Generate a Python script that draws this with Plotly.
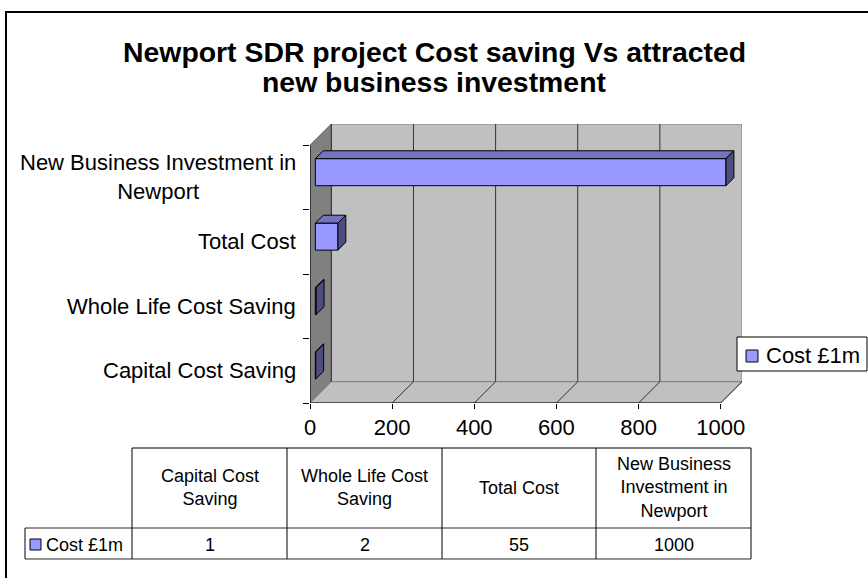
import plotly.graph_objects as go

# ---------------- data ----------------
categories = ["Capital Cost Saving", "Whole Life Cost Saving", "Total Cost",
              "New Business Investment in Newport"]
axis_labels = ["Capital Cost Saving", "Whole Life Cost Saving", "Total Cost",
               "New Business Investment in<br>Newport"]
table_headers = ["Capital Cost<br>Saving", "Whole Life Cost<br>Saving", "Total Cost",
                 "New Business<br>Investment in<br>Newport"]
cost_values = [1, 2, 55, 1000]
series_name = "Cost £1m"
x_ticks = [0, 200, 400, 600, 800, 1000]
title_lines = ["Newport SDR project Cost saving Vs attracted", "new business investment"]

# ---------------- styling / geometry ----------------
W, H = 868, 578
PL, PR, PT, PB = 310, 742, 124, 403          # plot area in pixels
XMAX = 1000                                   # value axis max
DX, DY = 52, 0.33                             # 3-D depth offset in data units
F0, F1 = 0.25, 0.62                           # bar depth fraction (front, back)
BAR_H = 0.42
FRONT = "#9999FF"
TOP = "#7373BF"
SIDE = "#4D4D80"
FONT = "Liberation Sans, Arial, sans-serif"


def px2x(px):
    return (px - PL) / (PR - PL)


def px2y(py):
    return (PB - py) / (PB - PT)


fig = go.Figure()

ox, oy = F0 * DX, F0 * DY
ddx, ddy = (F1 - F0) * DX, (F1 - F0) * DY
centres = [i + 0.5 + oy for i in range(len(categories))]

# front faces (real bars)
fig.add_trace(go.Bar(
    orientation="h", y=centres, x=cost_values, base=ox, width=BAR_H,
    marker=dict(color=FRONT, line=dict(color="black", width=1)),
    name=series_name, showlegend=False, hoverinfo="x+name",
))

# top and side faces
tx, ty, sx, sy = [], [], [], []
for c, v in zip(centres, cost_values):
    x0, x1 = ox, ox + v
    yt, yb = c + BAR_H / 2, c - BAR_H / 2
    tx += [x0, x1, x1 + ddx, x0 + ddx, x0, None]
    ty += [yt, yt, yt + ddy, yt + ddy, yt, None]
    sx += [x1, x1, x1 + ddx, x1 + ddx, x1, None]
    sy += [yb, yt, yt + ddy, yb + ddy, yb, None]
fig.add_trace(go.Scatter(x=tx, y=ty, mode="lines", fill="toself", fillcolor=TOP,
                         line=dict(color="black", width=1), showlegend=False,
                         hoverinfo="skip"))
fig.add_trace(go.Scatter(x=sx, y=sy, mode="lines", fill="toself", fillcolor=SIDE,
                         line=dict(color="black", width=1), showlegend=False,
                         hoverinfo="skip"))

ncat = len(categories)
shapes = []
# back wall
shapes.append(dict(type="rect", xref="x", yref="y", x0=DX, x1=XMAX + DX, y0=DY, y1=ncat + DY,
                   fillcolor="#C0C0C0", line=dict(color="#808080", width=1), layer="below"))
# side wall
shapes.append(dict(type="path", xref="x", yref="y",
                   path=f"M 0,0 L {DX},{DY} L {DX},{ncat + DY} L 0,{ncat} Z",
                   fillcolor="#808080", line=dict(color="#606060", width=1), layer="below"))
# floor
shapes.append(dict(type="path", xref="x", yref="y",
                   path=f"M 0,0 L {XMAX},0 L {XMAX + DX},{DY} L {DX},{DY} Z",
                   fillcolor="#C0C0C0", line=dict(color="#808080", width=1), layer="below"))
# gridlines on back wall and floor
for t in x_ticks:
    if 0 < t < XMAX:
        shapes.append(dict(type="line", xref="x", yref="y", x0=t + DX, x1=t + DX,
                           y0=DY, y1=ncat + DY, line=dict(color="#333333", width=1),
                           layer="below"))
    if t > 0:
        shapes.append(dict(type="line", xref="x", yref="y", x0=t, x1=t + DX,
                           y0=0, y1=DY, line=dict(color="#333333", width=1), layer="below"))
shapes.append(dict(type="line", xref="x", yref="y", x0=DX, x1=DX, y0=DY, y1=ncat + DY,
                   line=dict(color="#333333", width=1), layer="below"))
# axis lines
shapes.append(dict(type="line", xref="x", yref="y", x0=0, x1=XMAX, y0=0, y1=0,
                   line=dict(color="black", width=1), layer="below"))
shapes.append(dict(type="line", xref="x", yref="y", x0=0, x1=0, y0=0, y1=ncat,
                   line=dict(color="black", width=1), layer="below"))

# outer chart border
shapes.append(dict(type="rect", xref="paper", yref="paper", x0=px2x(6), x1=px2x(905),
                   y0=px2y(600), y1=px2y(12), line=dict(color="black", width=2)))

# legend (manual, box overlapping the wall like the original)
shapes.append(dict(type="rect", xref="paper", yref="paper", x0=px2x(737), x1=px2x(867),
                   y0=px2y(371), y1=px2y(337), fillcolor="white",
                   line=dict(color="black", width=1)))
shapes.append(dict(type="rect", xref="paper", yref="paper", x0=px2x(746), x1=px2x(758),
                   y0=px2y(362), y1=px2y(350), fillcolor=FRONT,
                   line=dict(color="black", width=1)))

# data table
col_edges = [132, 287, 442, 596, 751]
t_top, t_mid, t_bot = 448, 528, 559
shapes.append(dict(type="line", xref="paper", yref="paper", x0=px2x(col_edges[0]),
                   x1=px2x(col_edges[-1]), y0=px2y(t_top), y1=px2y(t_top),
                   line=dict(color="black", width=1)))
for yy in (t_mid, t_bot):
    shapes.append(dict(type="line", xref="paper", yref="paper", x0=px2x(25),
                       x1=px2x(col_edges[-1]), y0=px2y(yy), y1=px2y(yy),
                       line=dict(color="#707070", width=1.5)))
shapes.append(dict(type="line", xref="paper", yref="paper", x0=px2x(25), x1=px2x(25),
                   y0=px2y(t_mid), y1=px2y(t_bot), line=dict(color="black", width=1)))
for e in col_edges:
    shapes.append(dict(type="line", xref="paper", yref="paper", x0=px2x(e), x1=px2x(e),
                       y0=px2y(t_top), y1=px2y(t_bot), line=dict(color="black", width=1)))
shapes.append(dict(type="rect", xref="paper", yref="paper", x0=px2x(30), x1=px2x(41),
                   y0=px2y(550), y1=px2y(539), fillcolor=FRONT,
                   line=dict(color="black", width=1)))

annotations = []
# title
for txt, yy in zip(title_lines, (52, 82)):
    annotations.append(dict(text=f"<b>{txt}</b>", xref="paper", yref="paper", x=px2x(434),
                            y=px2y(yy), xanchor="center", yanchor="middle", showarrow=False,
                            font=dict(family=FONT, size=28.4, color="black")))
# category labels
for i, lab in enumerate(axis_labels):
    annotations.append(dict(text=lab, xref="x", yref="y", x=0, y=i + 0.5, xanchor="right",
                            yanchor="middle", xshift=-12, align="center", showarrow=False,
                            font=dict(family=FONT, size=22, color="black")))
# legend text
annotations.append(dict(text=series_name, xref="paper", yref="paper", x=px2x(764),
                        y=px2y(355), xanchor="left", yanchor="middle", showarrow=False,
                        font=dict(family=FONT, size=22, color="black")))
# table texts
for i, (hdr, v) in enumerate(zip(table_headers, cost_values)):
    cx = (col_edges[i] + col_edges[i + 1]) / 2
    annotations.append(dict(text=hdr, xref="paper", yref="paper", x=px2x(cx),
                            y=px2y((t_top + t_mid) / 2), xanchor="center", yanchor="middle",
                            align="center", showarrow=False,
                            font=dict(family=FONT, size=18, color="black")))
    annotations.append(dict(text=str(v), xref="paper", yref="paper", x=px2x(cx),
                            y=px2y(545), xanchor="center", yanchor="middle", showarrow=False,
                            font=dict(family=FONT, size=18, color="black")))
annotations.append(dict(text=series_name, xref="paper", yref="paper", x=px2x(44),
                        y=px2y(545), xanchor="left", yanchor="middle", showarrow=False,
                        font=dict(family=FONT, size=18, color="black")))

fig.update_layout(
    width=W, height=H, autosize=False,
    margin=dict(l=PL, r=W - PR, t=PT, b=H - PB, pad=0),
    paper_bgcolor="white", plot_bgcolor="white",
    showlegend=False,
    shapes=shapes, annotations=annotations,
    font=dict(family=FONT, color="black"),
    xaxis=dict(range=[0, XMAX + DX], tickvals=x_ticks, ticks="outside", ticklen=5,
               tickcolor="black", showgrid=False, zeroline=False, showline=False,
               tickfont=dict(size=22, family=FONT, color="black"), fixedrange=True),
    yaxis=dict(range=[0, ncat + DY], tickvals=list(range(ncat + 1)),
               ticktext=[""] * (ncat + 1), ticks="outside", ticklen=6, tickcolor="black",
               showgrid=False, zeroline=False, showline=False, fixedrange=True),
)

# remove the browser's default 8px page margin so the figure sits at the window origin
fig.write_html("out.html", config={"displayModeBar": False},
               post_script="document.body.style.margin='0';")
